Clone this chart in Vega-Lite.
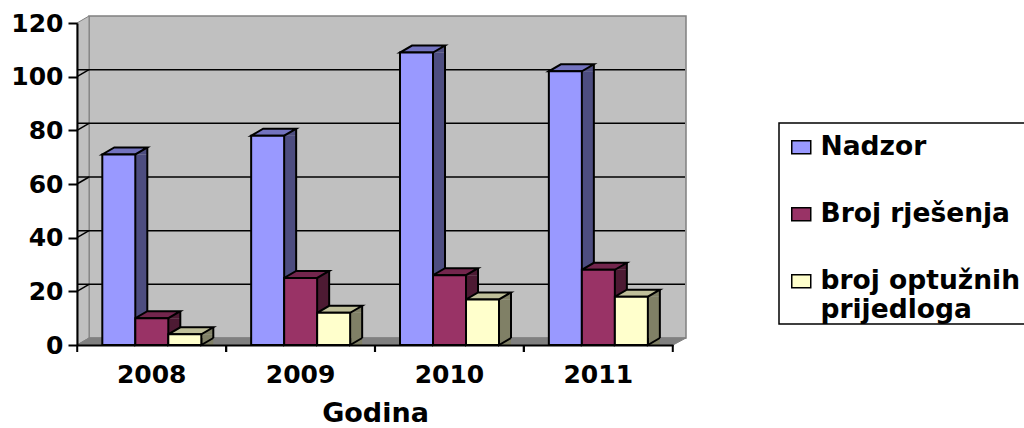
{
"$schema":"https://vega.github.io/schema/vega-lite/v6.json",
"width":596,"height":322,
"autosize":{"type":"none"},
"padding":{"left":77,"top":23,"right":351,"bottom":83},
"background":"white",
"config":{"view":{"stroke":null},"font":"DejaVu Sans"},
"datasets":{
"bars":[
{"godina":"2008","serija":"Nadzor","broj":71},{"godina":"2008","serija":"Broj rješenja","broj":10},{"godina":"2008","serija":"broj optužnih prijedloga","broj":4},
{"godina":"2009","serija":"Nadzor","broj":78},{"godina":"2009","serija":"Broj rješenja","broj":25},{"godina":"2009","serija":"broj optužnih prijedloga","broj":12},
{"godina":"2010","serija":"Nadzor","broj":109},{"godina":"2010","serija":"Broj rješenja","broj":26},{"godina":"2010","serija":"broj optužnih prijedloga","broj":17},
{"godina":"2011","serija":"Nadzor","broj":102},{"godina":"2011","serija":"Broj rješenja","broj":28},{"godina":"2011","serija":"broj optužnih prijedloga","broj":18}
],
"base":[{"razina":0}],
"years":[{"godina":"2008","razina":0},{"godina":"2009","razina":0},{"godina":"2010","razina":0},{"godina":"2011","razina":0}],
"grid":[{"razina":20},{"razina":40},{"razina":60},{"razina":80},{"razina":100}]
},
"resolve":{"scale":{"fill":"independent","xOffset":"independent"}},
"layer":[
{"data":{"name":"base"},
 "mark":{"type":"point","filled":true,"opacity":1,"size":4,"fill":"#C0C0C0","stroke":"#808080","strokeWidth":1.5,"shape":"M-286,-7 H311 V-329 H-286 Z"},
 "encoding":{"y":{"field":"razina","type":"quantitative","scale":{"domain":[0,120],"nice":false,"zero":false},"axis":{"values":[0,20,40,60,80,100,120],"grid":false,"title":null,"labelFont":"DejaVu Sans","labelFontWeight":"bold","labelFontSize":25,"labelColor":"black","labelPadding":5,"tickColor":"black","tickWidth":2,"tickSize":9,"domainColor":"black","domainWidth":2,"zindex":1}}}},
{"data":{"name":"base"},
 "mark":{"type":"point","filled":true,"opacity":1,"size":4,"fill":"#C0C0C0","stroke":"#808080","strokeWidth":1,"shape":"M-298,0 L-286,-7 V-329 L-298,-322 Z"},
 "encoding":{"y":{"field":"razina","type":"quantitative"}}},
{"data":{"name":"base"},
 "mark":{"type":"point","filled":true,"opacity":1,"size":4,"fill":"#808080","stroke":"#808080","strokeWidth":1,"shape":"M-298,0 L-286,-7 H311 L298,0 Z"},
 "encoding":{"y":{"field":"razina","type":"quantitative"}}},
{"data":{"name":"base"},
 "mark":{"type":"point","filled":true,"opacity":1,"size":4,"fill":"white","stroke":"black","strokeWidth":1.5,"shape":"M404,-222 H660 V-21 H404 Z"},
 "encoding":{"y":{"field":"razina","type":"quantitative"}}},
{"data":{"name":"grid"},
 "mark":{"type":"rule","stroke":"black","strokeWidth":1.5,"xOffset":12,"yOffset":-7},
 "encoding":{"y":{"field":"razina","type":"quantitative"}}},
{"data":{"name":"grid"},
 "mark":{"type":"point","filled":false,"opacity":1,"size":4,"stroke":"black","strokeWidth":1.5,"shape":"M-298,0 L-286,-7"},
 "encoding":{"y":{"field":"razina","type":"quantitative"}}},
{"data":{"name":"bars"},
 "mark":{"type":"bar","y2Offset":-7,"strokeWidth":0},
 "encoding":{
  "x":{"field":"godina","type":"nominal","scale":{"paddingInner":0.336,"paddingOuter":0.17},"axis":{"title":"Godina","labelAngle":0,"labelFont":"DejaVu Sans","labelFontWeight":"bold","labelFontSize":25,"labelColor":"black","labelPadding":17,"ticks":false,"domainColor":"black","domainWidth":2,"titleFont":"DejaVu Sans","titleFontWeight":"bold","titleFontSize":27,"titleColor":"black","titlePadding":13,"zindex":1}},
  "xOffset":{"field":"serija","type":"nominal","sort":["Nadzor","Broj rješenja","broj optužnih prijedloga"],"scale":{"range":[12,111]}},
  "y":{"field":"broj","type":"quantitative"},
  "fill":{"field":"serija","type":"nominal","legend":null,"scale":{"domain":["Nadzor","Broj rješenja","broj optužnih prijedloga"],"range":["#4D4D80","#4D1A33","#808066"]}}}},
{"data":{"name":"bars"},
 "mark":{"type":"point","filled":true,"opacity":1,"size":4,"strokeWidth":0,"shape":"M16.5,0 L28.5,-7 V0 Z"},
 "encoding":{
  "x":{"field":"godina","type":"nominal"},
  "xOffset":{"field":"serija","type":"nominal","sort":["Nadzor","Broj rješenja","broj optužnih prijedloga"],"scale":{"range":[0,99]}},
  "y":{"field":"broj","type":"quantitative"},
  "fill":{"field":"serija","type":"nominal","legend":null,"scale":{"domain":["Nadzor","Broj rješenja","broj optužnih prijedloga"],"range":["#4D4D80","#4D1A33","#808066"]}}}},
{"data":{"name":"bars"},
 "mark":{"type":"point","filled":true,"opacity":1,"size":4,"stroke":"black","strokeWidth":2,"shape":"M16.5,-7 L16.5,0 L28.5,-7"},
 "encoding":{
  "x":{"field":"godina","type":"nominal"},
  "xOffset":{"field":"serija","type":"nominal","sort":["Nadzor","Broj rješenja","broj optužnih prijedloga"],"scale":{"range":[0,99]}},
  "y":{"datum":0,"type":"quantitative"},
  "fill":{"field":"serija","type":"nominal","legend":null,"scale":{"domain":["Nadzor","Broj rješenja","broj optužnih prijedloga"],"range":["#4D4D80","#4D1A33","#808066"]}}}},
{"data":{"name":"bars"},
 "mark":{"type":"rule","stroke":"black","strokeWidth":2,"yOffset":-7,"y2Offset":-7},
 "encoding":{
  "x":{"field":"godina","type":"nominal"},
  "xOffset":{"field":"serija","type":"nominal","sort":["Nadzor","Broj rješenja","broj optužnih prijedloga"],"scale":{"range":[28.5,127.5]}},
  "y":{"field":"broj","type":"quantitative"},
  "y2":{"datum":0}}},
{"data":{"name":"bars"},
 "mark":{"type":"point","filled":true,"opacity":1,"size":4,"stroke":"black","strokeWidth":2,"shape":"M-16.5,0 L16.5,0 L28.5,-7 L-4.5,-7 Z"},
 "encoding":{
  "x":{"field":"godina","type":"nominal"},
  "xOffset":{"field":"serija","type":"nominal","sort":["Nadzor","Broj rješenja","broj optužnih prijedloga"],"scale":{"range":[0,99]}},
  "y":{"field":"broj","type":"quantitative"},
  "fill":{"field":"serija","type":"nominal","legend":null,"scale":{"domain":["Nadzor","Broj rješenja","broj optužnih prijedloga"],"range":["#7373BF","#73264D","#BFBF99"]}}}},
{"data":{"name":"bars"},
 "mark":{"type":"bar","stroke":"black","strokeWidth":2},
 "encoding":{
  "x":{"field":"godina","type":"nominal"},
  "xOffset":{"field":"serija","type":"nominal","sort":["Nadzor","Broj rješenja","broj optužnih prijedloga"],"scale":{"range":[0,99]}},
  "y":{"field":"broj","type":"quantitative"},
  "fill":{"field":"serija","type":"nominal","scale":{"domain":["Nadzor","Broj rješenja","broj optužnih prijedloga"],"range":["#9999FF","#993366","#FFFFCC"]},
   "legend":{"title":null,"orient":"none","legendX":711,"legendY":111,"padding":0,"symbolType":"M-1,-0.68 H1 V0.68 H-1 Z","symbolSize":361,"symbolStrokeColor":"black","symbolStrokeWidth":1.5,"labelFont":"DejaVu Sans","labelFontWeight":"bold","labelFontSize":26.5,"labelColor":"black","labelOffset":6,"labelLimit":300,"rowPadding":40,"labelExpr":"datum.label == 'broj optužnih prijedloga' ? ['broj optužnih','prijedloga'] : datum.label"}}}},
{"data":{"name":"years"},
 "mark":{"type":"point","filled":false,"opacity":1,"size":4,"stroke":"black","strokeWidth":2,"shape":"M-74.5,0 V7 M74.5,0 V7"},
 "encoding":{
  "x":{"field":"godina","type":"nominal"},
  "y":{"field":"razina","type":"quantitative"}}}
]
}
